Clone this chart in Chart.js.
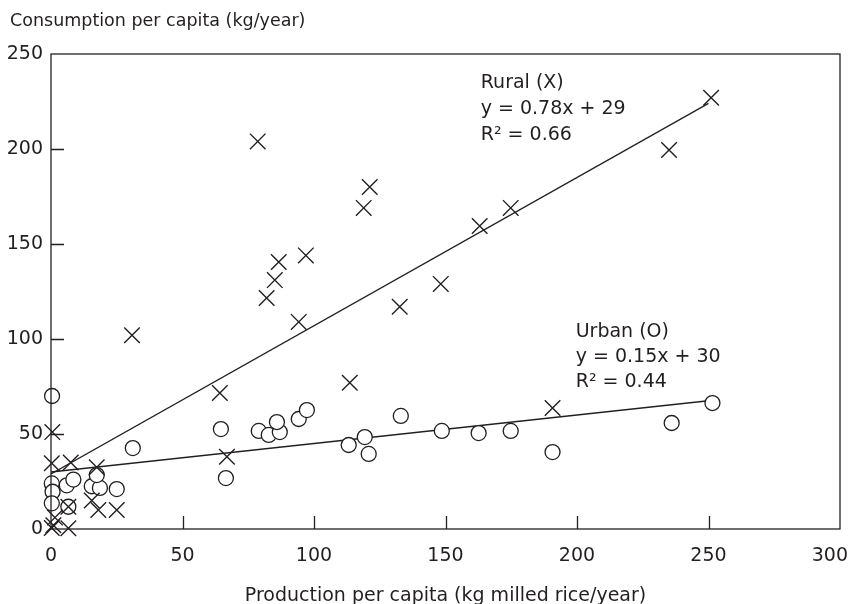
<!DOCTYPE html>
<html>
<head>
<meta charset="utf-8">
<script src="https://cdn.jsdelivr.net/npm/chart.js@4/dist/chart.umd.min.js"></script>
<style>
  html, body { margin: 0; padding: 0; background: #fff; }
  #wrap { width: 850px; height: 604px; position: relative; }
</style>
</head>
<body>
<div id="wrap"><canvas id="riceChart"></canvas></div>
<script>
// Rural households (X): production vs consumption per capita
const ruralProd = [78.6, 121.2, 118.9, 86.6, 96.9, 85.1, 82, 94.2, 132.6, 148.2, 163, 174.8, 235, 251,
                   30.8, 64.2, 66.9, 113.6, 190.7, 0.5, 0.3, 7.5, 17.4, 15.5, 18, 25, 6.6, 0.9, 6.6, 0.3, 1.5];
const ruralCons = [204, 180, 169, 140.5, 144, 131, 121.6, 109, 117, 129, 159.5, 169, 199.5, 227,
                   102, 71.6, 38, 77, 63.7, 51, 34.6, 35, 32.5, 15, 10, 10, 11.7, 2, 0.4, 0.5, 6];

// Urban households (O)
const urbanProd = [0.4, 31.1, 64.6, 66.5, 79, 82.8, 87, 85.9, 94.2, 97.3, 113.2, 119.3, 120.8, 133,
                   148.6, 162.6, 174.8, 190.7, 236, 251.5, 0.3, 6, 8.5, 0.6, 0.3, 6.6, 15.5, 18.6, 17.4, 25];
const urbanCons = [70, 42.6, 52.6, 26.8, 51.6, 49.5, 51, 56.3, 57.9, 62.6, 44.2, 48.4, 39.5, 59.5,
                   51.6, 50.5, 51.6, 40.5, 55.8, 66.3, 24, 23, 26, 19.6, 13.5, 11.7, 22.5, 21.6, 28.4, 21];

// Fitted lines (end points)
const ruralFitX = [0, 250];
const ruralFitY = [29, 224];
const urbanFitX = [0, 250];
const urbanFitY = [30, 67.5];

const xTicks = [0, 50, 100, 150, 200, 250, 300];
const yTicks = [0, 50, 100, 150, 200, 250];

const ruralLabel = ["Rural (X)", "y = 0.78x + 29", "R\u00b2 = 0.66"];
const urbanLabel = ["Urban (O)", "y = 0.15x + 30", "R\u00b2 = 0.44"];

const ink = "#231f20";
const fontFamily = "'DejaVu Sans', sans-serif";

const toPoints = (xs, ys) => xs.map((x, i) => ({ x: x, y: ys[i] }));

// Frame, inward ticks, x tick labels and text labels
const decorPlugin = {
    id: "decor",
    afterDraw(chart) {
        const ctx = chart.ctx;
        const area = chart.chartArea;
        const xs = chart.scales.x;
        const ys = chart.scales.y;
        ctx.save();
        ctx.strokeStyle = ink;
        ctx.lineWidth = 1.3;
        ctx.strokeRect(area.left, area.top, area.right - area.left, area.bottom - area.top);

        // tick marks pointing into the plot
        ctx.beginPath();
        xTicks.slice(1, -1).forEach(v => {
            const px = Math.round(xs.getPixelForValue(v)) + 0.5;
            ctx.moveTo(px, area.bottom);
            ctx.lineTo(px, area.bottom - 13);
        });
        yTicks.slice(1, -1).forEach(v => {
            const py = Math.round(ys.getPixelForValue(v)) + 0.5;
            ctx.moveTo(area.left, py);
            ctx.lineTo(area.left + 13, py);
        });
        ctx.stroke();

        ctx.fillStyle = ink;

        // x tick labels, kept inside the canvas
        ctx.font = "19px " + fontFamily;
        ctx.textAlign = "center";
        ctx.textBaseline = "middle";
        xTicks.forEach(v => {
            const label = String(v);
            const w = ctx.measureText(label).width;
            let px = xs.getPixelForValue(v);
            px = Math.min(px, chart.width - 2 - w / 2);
            ctx.fillText(label, px, area.bottom + 27);
        });

        ctx.textBaseline = "alphabetic";
        ctx.textAlign = "left";
        ctx.font = "17.5px " + fontFamily;
        ctx.fillText("Consumption per capita (kg/year)", 10, 26);

        ctx.textAlign = "center";
        ctx.font = "19px " + fontFamily;
        ctx.fillText("Production per capita (kg milled rice/year)", (area.left + area.right) / 2, 601);

        // regression annotations
        ctx.textAlign = "left";
        ctx.font = "19px " + fontFamily;
        const rx = xs.getPixelForValue(163.4);
        ruralLabel.forEach((t, i) => ctx.fillText(t, rx, 88 + i * 26));
        const ux = xs.getPixelForValue(199.5);
        urbanLabel.forEach((t, i) => ctx.fillText(t, ux, 337 + i * 25));
        ctx.restore();
    }
};

const ctx = document.getElementById("riceChart").getContext("2d");
new Chart(ctx, {
    type: "scatter",
    data: {
        datasets: [
            {
                label: "Rural",
                data: toPoints(ruralProd, ruralCons),
                pointStyle: "crossRot",
                pointRadius: 11,
                borderColor: ink,
                borderWidth: 1.4,
                clip: false,
                order: 0
            },
            {
                label: "Urban",
                data: toPoints(urbanProd, urbanCons),
                pointStyle: "circle",
                pointRadius: 7.5,
                borderColor: ink,
                backgroundColor: "#ffffff",
                borderWidth: 1.3,
                clip: false,
                order: 1
            },
            {
                label: "Rural fit",
                type: "line",
                data: toPoints(ruralFitX, ruralFitY),
                borderColor: ink,
                borderWidth: 1.3,
                pointRadius: 0,
                fill: false,
                order: 2
            },
            {
                label: "Urban fit",
                type: "line",
                data: toPoints(urbanFitX, urbanFitY),
                borderColor: ink,
                borderWidth: 1.3,
                pointRadius: 0,
                fill: false,
                order: 2
            }
        ]
    },
    options: {
        responsive: true,
        maintainAspectRatio: false,
        animation: false,
        layout: {
            autoPadding: false,
            padding: { top: 54, right: 10, left: 0, bottom: 0 }
        },
        plugins: {
            legend: { display: false },
            tooltip: { enabled: false }
        },
        scales: {
            x: {
                type: "linear",
                min: 0,
                max: 300,
                grid: { display: false, drawTicks: false },
                border: { display: false },
                ticks: { stepSize: 50, display: false },
                afterFit(scale) {
                    scale.height = 75;
                    scale.paddingLeft = 0;
                    scale.paddingRight = 0;
                }
            },
            y: {
                type: "linear",
                min: 0,
                max: 250,
                grid: { display: false, drawTicks: false },
                border: { display: false },
                ticks: {
                    stepSize: 50,
                    padding: 8,
                    color: ink,
                    font: { family: fontFamily, size: 19 }
                },
                afterFit(scale) {
                    scale.width = 51;
                    scale.paddingTop = 0;
                    scale.paddingBottom = 0;
                }
            }
        }
    },
    plugins: [decorPlugin]
});
</script>
</body>
</html>
